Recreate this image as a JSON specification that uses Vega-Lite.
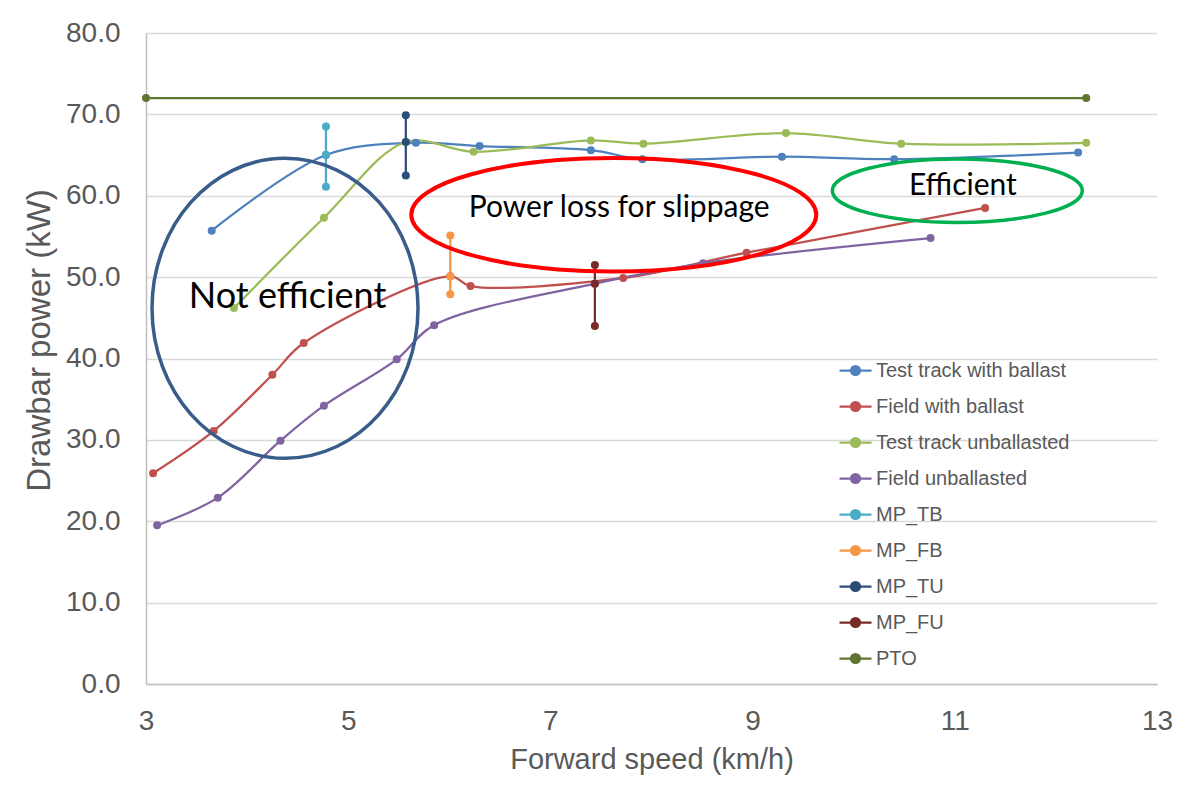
{
  "$schema": "https://vega.github.io/schema/vega-lite/v6.json",
  "width": 1011,
  "height": 651,
  "autosize": {"type": "none"},
  "padding": {"left": 146, "top": 33, "right": 46, "bottom": 105},
  "background": "white",
  "config": {"view": {"stroke": null}, "font": "Liberation Sans"},
  "datasets": {
    "series": [
      {"s": "Test track with ballast", "i": 1, "x": 3.65, "y": 55.7},
      {"s": "Test track with ballast", "i": 2, "x": 4.78, "y": 65.0},
      {"s": "Test track with ballast", "i": 3, "x": 5.67, "y": 66.5},
      {"s": "Test track with ballast", "i": 4, "x": 6.30, "y": 66.1},
      {"s": "Test track with ballast", "i": 5, "x": 7.40, "y": 65.6},
      {"s": "Test track with ballast", "i": 6, "x": 7.91, "y": 64.5},
      {"s": "Test track with ballast", "i": 7, "x": 9.29, "y": 64.8},
      {"s": "Test track with ballast", "i": 8, "x": 10.40, "y": 64.5},
      {"s": "Test track with ballast", "i": 9, "x": 12.22, "y": 65.3},
      {"s": "Field with ballast", "i": 1, "x": 3.07, "y": 25.9},
      {"s": "Field with ballast", "i": 2, "x": 3.67, "y": 31.1},
      {"s": "Field with ballast", "i": 3, "x": 4.25, "y": 38.0},
      {"s": "Field with ballast", "i": 4, "x": 4.56, "y": 41.9},
      {"s": "Field with ballast", "i": 5, "x": 6.01, "y": 50.1},
      {"s": "Field with ballast", "i": 6, "x": 6.21, "y": 48.9},
      {"s": "Field with ballast", "i": 7, "x": 7.72, "y": 49.9},
      {"s": "Field with ballast", "i": 8, "x": 8.94, "y": 53.0},
      {"s": "Field with ballast", "i": 9, "x": 11.30, "y": 58.5},
      {"s": "Test track unballasted", "i": 1, "x": 3.87, "y": 46.2},
      {"s": "Test track unballasted", "i": 2, "x": 4.76, "y": 57.3},
      {"s": "Test track unballasted", "i": 3, "x": 5.57, "y": 66.6},
      {"s": "Test track unballasted", "i": 4, "x": 6.24, "y": 65.4},
      {"s": "Test track unballasted", "i": 5, "x": 7.40, "y": 66.8},
      {"s": "Test track unballasted", "i": 6, "x": 7.92, "y": 66.4},
      {"s": "Test track unballasted", "i": 7, "x": 9.33, "y": 67.7},
      {"s": "Test track unballasted", "i": 8, "x": 10.47, "y": 66.4},
      {"s": "Test track unballasted", "i": 9, "x": 12.30, "y": 66.5},
      {"s": "Field unballasted", "i": 1, "x": 3.11, "y": 19.5},
      {"s": "Field unballasted", "i": 2, "x": 3.71, "y": 22.9},
      {"s": "Field unballasted", "i": 3, "x": 4.33, "y": 29.9},
      {"s": "Field unballasted", "i": 4, "x": 4.76, "y": 34.2},
      {"s": "Field unballasted", "i": 5, "x": 5.48, "y": 39.9},
      {"s": "Field unballasted", "i": 6, "x": 5.85, "y": 44.1},
      {"s": "Field unballasted", "i": 7, "x": 7.44, "y": 49.2},
      {"s": "Field unballasted", "i": 8, "x": 8.51, "y": 51.7},
      {"s": "Field unballasted", "i": 9, "x": 10.76, "y": 54.8},
      {"s": "MP_TB", "i": 1, "x": 4.78, "y": 68.5},
      {"s": "MP_TB", "i": 2, "x": 4.78, "y": 65.0},
      {"s": "MP_TB", "i": 3, "x": 4.78, "y": 61.1},
      {"s": "MP_FB", "i": 1, "x": 6.01, "y": 55.1},
      {"s": "MP_FB", "i": 2, "x": 6.01, "y": 50.1},
      {"s": "MP_FB", "i": 3, "x": 6.01, "y": 47.9},
      {"s": "MP_TU", "i": 1, "x": 5.57, "y": 69.9},
      {"s": "MP_TU", "i": 2, "x": 5.57, "y": 66.6},
      {"s": "MP_TU", "i": 3, "x": 5.57, "y": 62.5},
      {"s": "MP_FU", "i": 1, "x": 7.44, "y": 51.5},
      {"s": "MP_FU", "i": 2, "x": 7.44, "y": 49.2},
      {"s": "MP_FU", "i": 3, "x": 7.44, "y": 44.0},
      {"s": "PTO", "i": 1, "x": 3.0, "y": 72.0},
      {"s": "PTO", "i": 2, "x": 12.30, "y": 72.0}
    ],
    "ellipses": [
      {"e": "not", "x": 4.375, "y": 46.17},
      {"e": "loss", "x": 7.627, "y": 57.67},
      {"e": "eff", "x": 11.025, "y": 60.62}
    ],
    "notes": [
      {"t": "Not efficient", "x": 4.40, "y": 46.25},
      {"t": "Power loss for slippage", "x": 7.68, "y": 57.4},
      {"t": "Efficient", "x": 11.08, "y": 60.06}
    ]
  },
  "layer": [
    {
      "data": {"name": "series"},
      "mark": {"type": "line", "interpolate": "catmull-rom", "strokeWidth": 2.25},
      "encoding": {
        "x": {
          "field": "x", "type": "quantitative",
          "scale": {"domain": [3, 13], "nice": false, "zero": false},
          "axis": {
            "title": "Forward speed (km/h)", "values": [3, 5, 7, 9, 11, 13], "format": "d", "labelFlush": false,
            "grid": false, "ticks": false, "domainColor": "#BFBFBF", "domainWidth": 1.5,
            "labelFontSize": 28, "labelColor": "#595959", "labelPadding": 23, "labelFont": "Liberation Sans",
            "titleFontSize": 29, "titleFontWeight": "normal", "titleColor": "#595959", "titleFont": "Liberation Sans", "titlePadding": 10
          }
        },
        "y": {
          "field": "y", "type": "quantitative",
          "scale": {"domain": [0, 80], "nice": false},
          "axis": {
            "title": "Drawbar power (kW)", "values": [0, 10, 20, 30, 40, 50, 60, 70, 80], "format": ".1f", "labelFlush": false,
            "grid": true, "gridColor": "#D9D9D9", "gridWidth": 1.5, "ticks": false, "domainColor": "#BFBFBF", "domainWidth": 1.5,
            "labelFontSize": 28, "labelColor": "#595959", "labelPadding": 26, "labelFont": "Liberation Sans",
            "titleFontSize": 33, "titleFontWeight": "normal", "titleColor": "#595959", "titleFont": "Liberation Sans", "titlePadding": 9, "titleY": 307
          }
        },
        "color": {
          "field": "s", "type": "nominal",
          "scale": {
            "domain": ["Test track with ballast", "Field with ballast", "Test track unballasted", "Field unballasted", "MP_TB", "MP_FB", "MP_TU", "MP_FU", "PTO"],
            "range": ["#4F81BD", "#C0504D", "#9BBB59", "#8064A2", "#4BACC6", "#F79646", "#2C4D75", "#772C2A", "#5F7530"]
          },
          "legend": {
            "orient": "none", "legendX": 692, "legendY": 320, "title": null, "padding": 0,
            "symbolType": "M-1,0L1,0M-0.28,0A0.28,0.28,0,1,1,0.28,0A0.28,0.28,0,1,1,-0.28,0Z",
            "symbolSize": 1024, "symbolStrokeWidth": 2.25,
            "labelFontSize": 20, "labelColor": "#595959", "labelFont": "Liberation Sans", "labelOffset": 3, "labelLimit": 400, "rowPadding": 8,
            "encode": {"symbols": {"update": {"fill": {"scale": "color", "field": "value"}, "stroke": {"scale": "color", "field": "value"}, "opacity": {"value": 1}}}}
          }
        },
        "order": {"field": "i", "type": "quantitative"}
      }
    },
    {
      "data": {"name": "series"},
      "mark": {"type": "point", "filled": true, "size": 64, "opacity": 1},
      "encoding": {
        "x": {"field": "x", "type": "quantitative"},
        "y": {"field": "y", "type": "quantitative"},
        "color": {"field": "s", "type": "nominal"}
      }
    },
    {
      "data": {"name": "ellipses"},
      "transform": [{"filter": "datum.e === 'not'"}],
      "mark": {"type": "point", "filled": false, "opacity": 1, "stroke": "#385D8A", "strokeWidth": 3.5, "size": 70756,
               "shape": "M-1,0A1,1.128,0,1,1,1,0A1,1.128,0,1,1,-1,0Z"},
      "encoding": {"x": {"field": "x", "type": "quantitative"}, "y": {"field": "y", "type": "quantitative"}}
    },
    {
      "data": {"name": "ellipses"},
      "transform": [{"filter": "datum.e === 'loss'"}],
      "mark": {"type": "point", "filled": false, "opacity": 1, "stroke": "#FF0000", "strokeWidth": 4, "size": 164025,
               "shape": "M-1,0A1,0.2805,0,1,1,1,0A1,0.2805,0,1,1,-1,0Z"},
      "encoding": {"x": {"field": "x", "type": "quantitative"}, "y": {"field": "y", "type": "quantitative"}}
    },
    {
      "data": {"name": "ellipses"},
      "transform": [{"filter": "datum.e === 'eff'"}],
      "mark": {"type": "point", "filled": false, "opacity": 1, "stroke": "#00B050", "strokeWidth": 3.5, "size": 62500,
               "shape": "M-1,0A1,0.2536,0,1,1,1,0A1,0.2536,0,1,1,-1,0Z"},
      "encoding": {"x": {"field": "x", "type": "quantitative"}, "y": {"field": "y", "type": "quantitative"}}
    },
    {
      "data": {"name": "notes"},
      "transform": [{"filter": "datum.t === 'Not efficient'"}],
      "mark": {"type": "text", "font": "Lato", "fontSize": 36, "align": "center", "baseline": "alphabetic", "color": "#000000"},
      "encoding": {"x": {"field": "x", "type": "quantitative"}, "y": {"field": "y", "type": "quantitative"}, "text": {"field": "t"}}
    },
    {
      "data": {"name": "notes"},
      "transform": [{"filter": "datum.t !== 'Not efficient'"}],
      "mark": {"type": "text", "font": "Lato", "fontSize": 30, "align": "center", "baseline": "alphabetic", "color": "#000000"},
      "encoding": {"x": {"field": "x", "type": "quantitative"}, "y": {"field": "y", "type": "quantitative"}, "text": {"field": "t"}}
    }
  ]
}
